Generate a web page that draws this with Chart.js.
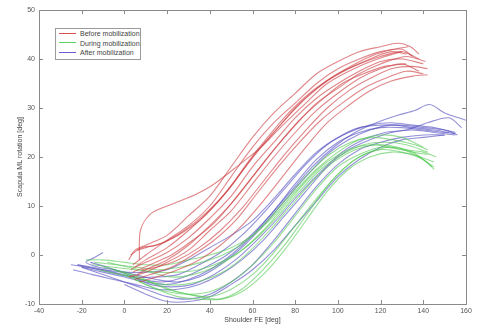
<!DOCTYPE html>
<html>
<head>
<meta charset="utf-8">
<script src="https://cdn.jsdelivr.net/npm/chart.js@4.4.0/dist/chart.umd.min.js"></script>
<style>
  body { margin: 0; background: #fff; }
  #wrap { position: relative; width: 477px; height: 329px; }
  #legend {
    position: absolute; left: 55px; top: 28px; width: 84px; height: 30px;
    border: 1px solid #9a9a9a; background: #fff;
    font-family: "Liberation Sans", Arial, sans-serif; font-size: 7px; color: #444;
  }
  #legend div { height: 9.5px; line-height: 9.5px; white-space: nowrap; }
  #legend span.ln { display: inline-block; width: 17px; height: 1px; margin: 0 4px 2px 3px; vertical-align: middle; }
</style>
</head>
<body>
<div id="wrap">
  <canvas id="myChart" width="477" height="329"></canvas>
  <div id="legend">
    <div><span class="ln" style="background:#d85050"></span>Before mobilization</div>
    <div><span class="ln" style="background:#60d060"></span>During mobilization</div>
    <div><span class="ln" style="background:#6a5ad0"></span>After mobilization</div>
  </div>
</div>
<script>
// tick labels
var xTicks = [-40, -20, 0, 20, 40, 60, 80, 100, 120, 140, 160];
var yTicks = [-10, 0, 10, 20, 30, 40, 50];

// before mobilization (red), each trace = [shoulder FE, scapula ML rotation]
var before = [
  [[2,-1],[5,1],[10,2],[20,4],[30,8],[40,12],[50,18],[60,24],[70,29],[80,33],[90,37],[100,39.5],[110,41.5],[120,42.5],[128,43.2],[134,42.5],[138,41]],
  [[4,-2],[10,0],[20,3],[30,6],[40,10],[50,16],[60,22],[70,27],[80,31],[90,35],[100,38],[110,40],[120,41.5],[130,42],[135,40.5]],
  [[3,-3],[10,-1],[20,1.5],[30,5],[40,9],[50,14],[60,20],[70,25],[80,30],[90,34],[100,37],[110,39],[120,40.5],[130,41.5],[138,40]],
  [[5,-2.5],[10,-1.5],[20,0.5],[30,3.5],[40,7.5],[50,12],[60,18],[70,23],[80,28],[90,32],[100,35],[110,37.5],[120,39.5],[130,40],[140,39]],
  [[6,-4],[10,-3],[20,-1],[30,2],[40,6],[50,10.5],[60,16],[70,21.5],[80,26.5],[90,31],[100,34],[110,37],[120,39],[132,40.5],[141,39.5]],
  [[2,-4.5],[10,-3.5],[20,-1.5],[30,1],[40,5],[50,9],[60,14.5],[70,20],[80,25],[90,29.5],[100,33],[110,36],[120,38],[130,39],[138,37.5]],
  [[8,-3],[15,-2.5],[25,-1],[35,1.5],[45,5],[55,9.5],[65,15],[75,20.5],[85,25.5],[95,30],[105,33.5],[115,36],[125,38],[135,38.5],[142,38]],
  [[5,-5],[12,-4],[22,-2.5],[32,0],[42,3],[52,7],[62,12.5],[72,18],[82,23],[92,27.5],[102,31],[112,34],[122,36],[132,37.5],[140,37]],
  [[3,0],[8,1.5],[15,2],[25,4],[35,7],[45,11.5],[55,17],[65,22.5],[75,27.5],[85,32],[95,35.5],[105,38],[115,40],[125,41.5],[132,41]],
  [[7,-5.5],[15,-4.5],[25,-3],[35,-1],[45,2],[55,6],[65,11],[75,16.5],[85,22],[95,27],[105,30.5],[115,33.5],[125,35.5],[135,36.5],[142,36.8]],
  [[4,-3.5],[12,-2],[22,0],[32,3],[42,6.5],[52,11.5],[62,17],[72,22.5],[82,27.5],[92,31.5],[102,35],[112,37],[122,38.5],[132,39]],
  [[6,1],[10,1.5],[18,2.5],[28,5],[38,8.5],[48,13],[58,19],[68,24.5],[78,29.5],[88,33.5],[98,36.5],[108,39],[118,41],[126,42],[133,42.5]],
  [[7,-1],[7.5,5],[12,8.3],[20,10],[26,11],[34,12.5],[42,14.5],[54,18.5],[64,22],[73,26],[85,31],[95,35],[110,38.5],[122,40.5],[130,41.5]]
];

// during mobilization (green)
var during = [
  [[-18,-1],[-10,-1],[0,-1.5],[10,-2],[20,-2],[30,-1],[40,0],[50,1.5],[60,4],[70,8],[80,13],[90,17.5],[100,21],[110,23.5],[120,24.5],[130,24],[140,22]],
  [[-15,-2],[-5,-2.5],[5,-3],[15,-3.5],[25,-3.5],[35,-3],[45,-1.5],[55,1],[65,5],[75,10],[85,15],[95,19],[105,21.5],[115,22.5],[125,22],[135,21],[142,20.5]],
  [[-12,-3],[-2,-4],[8,-5],[18,-6],[28,-6],[38,-5],[48,-3],[58,0.5],[68,5],[78,10],[88,15],[98,19],[108,21.5],[118,22.5],[128,22],[138,20],[145,18]],
  [[-10,-2.5],[0,-3.5],[10,-5],[20,-7],[30,-8],[40,-8.5],[50,-7],[60,-4],[70,0.5],[80,6],[90,11.5],[100,16.5],[110,20],[120,21.5],[130,21],[140,19.5],[145,17.5]],
  [[-5,-3],[5,-4.5],[15,-6],[25,-7.5],[35,-8.5],[45,-9],[55,-7.5],[65,-4],[75,1],[85,7],[95,13],[105,17.5],[115,20],[125,21],[135,20.5],[145,19]],
  [[-8,-1.5],[2,-2.5],[12,-3.5],[22,-4.5],[32,-4],[42,-2.5],[52,0],[62,3.5],[72,8],[82,13],[92,17.5],[102,20.5],[112,22.5],[122,23],[132,22.5],[142,21]],
  [[0,-4],[10,-6],[20,-7.5],[30,-8],[40,-7.5],[50,-5.5],[60,-2],[70,2.5],[80,8],[90,13.5],[100,18],[110,20.5],[120,22],[130,21.5],[140,21],[146,20]],
  [[-14,-1.5],[-4,-2],[6,-2.5],[16,-3],[26,-2.5],[36,-1.5],[46,0],[56,2.5],[66,6.5],[76,11.5],[86,16.5],[96,20.5],[106,23],[116,24],[126,23.5],[136,22.5],[142,21.5]],
  [[5,-5],[15,-7],[25,-8.5],[35,-9],[45,-9],[55,-7],[65,-3],[75,2],[85,8],[95,14],[105,18.5],[115,21],[125,22],[135,21],[144,18]]
];

// after mobilization (blue)
var after = [
  [[-25,-2],[-18,-2.5],[-10,-3],[0,-3.5],[10,-3.5],[20,-3],[30,-1],[40,1.5],[50,4],[60,7],[70,11.5],[80,16.5],[90,21],[100,24],[110,26],[120,26.5],[130,26.5],[140,26],[150,25.5],[156,24.5]],
  [[-22,-2],[-15,-2.5],[-5,-3.5],[5,-4.5],[15,-4.5],[25,-4],[35,-2],[45,0.5],[55,4],[65,8.5],[75,13.5],[85,18.5],[95,22.5],[105,25],[115,26.5],[125,27],[135,26.5],[145,26],[155,25]],
  [[-10,0.5],[-14,-0.5],[-18,-1.5],[-12,-2.5],[-5,-3],[5,-4],[15,-5],[25,-5.5],[35,-4.5],[45,-2],[55,1.5],[65,6],[75,11],[85,16],[95,20.5],[105,23.5],[115,25.5],[125,26.5],[135,26],[145,25.5],[152,25]],
  [[-24,-3],[-15,-4],[-5,-5],[5,-6],[15,-7],[25,-7],[35,-6],[45,-4],[55,-1],[65,3],[75,8],[85,13],[95,18],[105,21.5],[115,23.5],[125,25],[135,25.5],[145,25],[155,24.5]],
  [[-20,-2.5],[-10,-4],[0,-5.5],[10,-7],[20,-8.5],[30,-9],[40,-8],[50,-5.5],[60,-2],[70,3],[80,8.5],[90,14],[100,18.5],[110,21.5],[120,23],[130,24],[140,24.5],[150,24.5]],
  [[-22,-2],[-12,-3],[-2,-4],[8,-5],[18,-5.5],[28,-4.5],[38,-2.5],[48,0],[58,3.5],[68,8],[78,13],[88,18],[98,22],[108,25],[118,27],[128,28.5],[136,29.5],[143,30.7],[150,29],[160,27.5]],
  [[-16,-1.5],[-8,-2.5],[2,-4],[12,-6],[22,-6.5],[32,-6],[42,-4],[52,-1],[62,3],[72,7.5],[82,12.5],[92,17],[102,21],[112,23.5],[122,25],[132,25.5],[142,27],[152,28],[158,26]],
  [[-20,-2.5],[-10,-3.5],[0,-4.5],[10,-5.5],[20,-6],[30,-5],[40,-3],[50,0],[60,4],[70,9],[80,14.5],[90,19.5],[100,23],[110,25],[120,26],[130,26],[140,25.5],[150,25],[155,24.8]],
  [[0,-6],[10,-8],[20,-9.5],[30,-9.5],[40,-8.5],[50,-6],[60,-3],[70,1],[80,6],[90,11],[100,16],[110,19.5],[120,22],[130,23.5],[140,24],[150,24.5]]
];

var datasets = [];
function addGroup(traces, color) {
    for (let i = 0; i < traces.length; i++) {
        datasets.push({
            data: traces[i].map(function (p) { return { x: p[0], y: p[1] }; }),
            borderColor: color,
            borderWidth: 1.1,
            pointRadius: 0,
            showLine: true,
            fill: false,
            tension: 0.3
        });
    }
}
addGroup(before, 'rgba(205, 60, 65, 0.62)');
addGroup(during, 'rgba(80, 200, 80, 0.6)');
addGroup(after, 'rgba(75, 70, 190, 0.6)');

// MATLAB style box with inward ticks
var frame = {
    id: 'frame',
    afterDatasetsDraw: function (chart) {
        var c = chart.ctx, a = chart.chartArea;
        var xs = chart.scales.x, ys = chart.scales.y;
        c.save();
        c.strokeStyle = '#8a8a8a';
        c.lineWidth = 1;
        c.strokeRect(a.left + 0.5, a.top + 0.5, a.right - a.left, a.bottom - a.top);
        c.beginPath();
        xTicks.forEach(function (v) {
            var px = Math.round(xs.getPixelForValue(v)) + 0.5;
            c.moveTo(px, a.bottom); c.lineTo(px, a.bottom - 4);
            c.moveTo(px, a.top); c.lineTo(px, a.top + 4);
        });
        yTicks.forEach(function (v) {
            var py = Math.round(ys.getPixelForValue(v)) + 0.5;
            c.moveTo(a.left, py); c.lineTo(a.left + 4, py);
            c.moveTo(a.right, py); c.lineTo(a.right - 4, py);
        });
        c.stroke();
        c.restore();
    }
};

var ctx = document.getElementById('myChart');
var chart = new Chart(ctx, {
    type: 'scatter',
    data: { datasets: datasets },
    options: {
        responsive: false,
        animation: false,
        layout: { padding: { top: 10, right: 11, left: 0, bottom: 0 } },
        scales: {
            x: {
                type: 'linear', min: -40, max: 160,
                afterBuildTicks: function (s) { s.ticks = xTicks.map(function (v) { return { value: v }; }); },
                afterFit: function (s) { s.height = 25; },
                grid: { display: false, drawTicks: false },
                border: { display: false },
                ticks: { font: { size: 7, family: 'Liberation Sans' }, color: '#555', padding: 3, maxRotation: 0 },
                title: { display: true, text: 'Shoulder FE [deg]', font: { size: 7, family: 'Liberation Sans' }, color: '#444', padding: { top: 0, bottom: 5 } }
            },
            y: {
                type: 'linear', min: -10, max: 50,
                afterBuildTicks: function (s) { s.ticks = yTicks.map(function (v) { return { value: v }; }); },
                afterFit: function (s) { s.width = 39; },
                grid: { display: false, drawTicks: false },
                border: { display: false },
                ticks: { font: { size: 7, family: 'Liberation Sans' }, color: '#555', padding: 4 },
                title: { display: true, text: 'Scapula ML rotation [deg]', font: { size: 7, family: 'Liberation Sans' }, color: '#444', padding: { top: 16, bottom: 0 } }
            }
        },
        plugins: {
            legend: { display: false },
            tooltip: { enabled: false }
        }
    },
    plugins: [frame]
});
</script>
</body>
</html>
